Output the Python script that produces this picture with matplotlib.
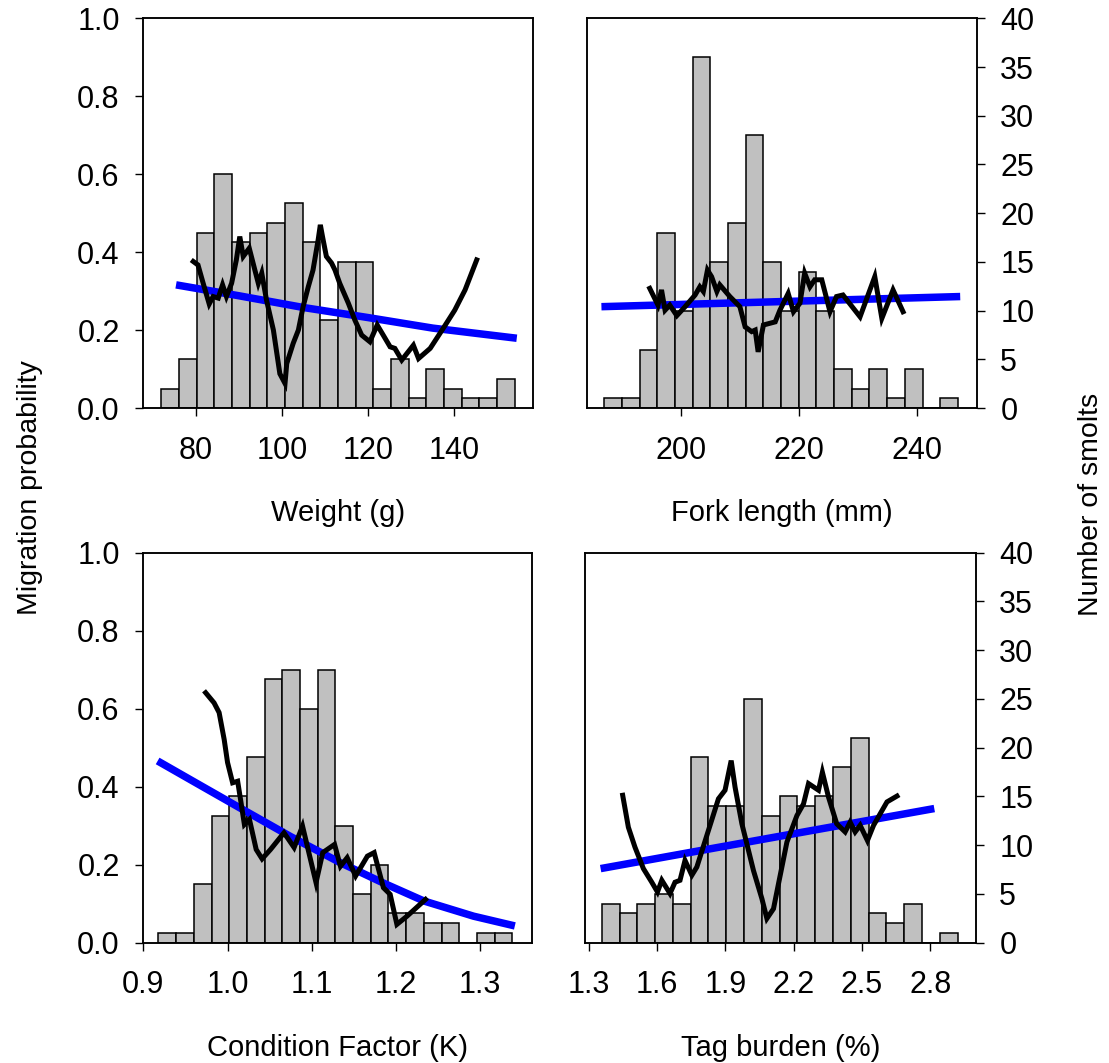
import numpy as np
import matplotlib
matplotlib.use("Agg")
import matplotlib.pyplot as plt

plt.rcParams['font.family'] = ['Liberation Sans', 'DejaVu Sans']

# histogram counts (number of smolts per bin)
weight_bin0, weight_binw = 72.0, 4.1
weight_counts = [2, 5, 18, 24, 17, 18, 19, 21, 17, 9, 15, 15, 2, 5, 1, 4, 2, 1, 1, 3]

length_bin0, length_binw = 187.0, 3.0
length_counts = [1, 1, 6, 18, 10, 36, 15, 19, 28, 15, 10, 14, 10, 4, 2, 4, 1, 4, 0, 1]

cond_bin0, cond_binw = 0.918, 0.021
cond_counts = [1, 1, 6, 13, 15, 19, 27, 28, 24, 28, 12, 5, 8, 3, 3, 2, 2, 0, 1, 1]

tag_bin0, tag_binw = 1.356, 0.0782
tag_counts = [4, 3, 4, 5, 4, 19, 14, 14, 25, 13, 15, 14, 15, 18, 21, 3, 2, 4, 0, 1]

# logistic fits (blue)
weight_fit_x = [75.4, 90, 104.9, 120, 135, 154.5]
weight_fit_y = [0.316, 0.288, 0.258, 0.232, 0.205, 0.179]
length_fit_x = [186.5, 247.4]
length_fit_y = [0.260, 0.286]
cond_fit_x = [0.917, 0.964, 1.016, 1.075, 1.134, 1.185, 1.233, 1.292, 1.341]
cond_fit_y = [0.466, 0.408, 0.344, 0.272, 0.205, 0.153, 0.107, 0.068, 0.043]
tag_fit_x = [1.351, 2.082, 2.818]
tag_fit_y = [0.190, 0.267, 0.344]

# smoothed observed probability (black)
weight_sm_x = [79.4, 80.5, 81.7, 83.1, 84.0, 85.2, 86.2, 87.1, 88.3, 89.4, 90.2, 91.0,
               92.4, 93.7, 94.5, 95.3, 96.4, 98.0, 99.5, 100.7, 101.1, 102.6, 103.8,
               104.9, 106.1, 107.2, 108.4, 108.9, 109.4, 110.3, 111.5, 112.3, 113.4,
               115.4, 116.9, 118.5, 120.4, 122.1, 123.5, 125.1, 126.2, 127.8, 129.0,
               130.5, 131.7, 134.4, 137.4, 140.1, 142.5, 145.2]
weight_sm_y = [0.376, 0.367, 0.320, 0.267, 0.286, 0.282, 0.316, 0.286, 0.320, 0.380,
               0.440, 0.389, 0.410, 0.354, 0.320, 0.346, 0.277, 0.200, 0.088, 0.063,
               0.114, 0.166, 0.200, 0.260, 0.311, 0.354, 0.432, 0.470, 0.440, 0.389,
               0.372, 0.354, 0.320, 0.269, 0.226, 0.187, 0.170, 0.213, 0.187, 0.157,
               0.153, 0.123, 0.140, 0.161, 0.127, 0.153, 0.204, 0.251, 0.303, 0.380]

length_sm_x = [194.7, 196.1, 196.7, 197.3, 198.1, 199.3, 200.7, 202.4, 203.2, 203.8,
               204.5, 205.2, 206.1, 206.6, 208.3, 210.0, 210.9, 212.0, 212.6, 213.1,
               214.0, 216.0, 216.8, 218.2, 219.1, 220.2, 221.0, 221.9, 222.7, 223.9,
               225.3, 226.4, 227.5, 230.4, 232.9, 234.1, 236.0, 237.7]
length_sm_y = [0.307, 0.264, 0.303, 0.251, 0.264, 0.237, 0.260, 0.290, 0.311, 0.299,
               0.354, 0.337, 0.299, 0.316, 0.286, 0.260, 0.208, 0.196, 0.200, 0.144,
               0.213, 0.221, 0.251, 0.294, 0.247, 0.269, 0.346, 0.311, 0.329, 0.329,
               0.247, 0.286, 0.290, 0.234, 0.337, 0.230, 0.303, 0.247]

cond_sm_x = [0.974, 0.984, 0.990, 0.996, 1.000, 1.006, 1.012, 1.016, 1.020, 1.026,
             1.034, 1.041, 1.051, 1.067, 1.079, 1.089, 1.105, 1.113, 1.127, 1.134,
             1.142, 1.152, 1.166, 1.174, 1.185, 1.193, 1.201, 1.213, 1.235]
cond_sm_y = [0.641, 0.615, 0.590, 0.521, 0.462, 0.410, 0.414, 0.359, 0.303, 0.316,
             0.239, 0.215, 0.239, 0.282, 0.244, 0.299, 0.154, 0.231, 0.252, 0.196,
             0.218, 0.171, 0.222, 0.231, 0.141, 0.124, 0.047, 0.068, 0.111]

tag_sm_x = [1.448, 1.473, 1.502, 1.539, 1.576, 1.601, 1.620, 1.656, 1.678, 1.700,
            1.722, 1.752, 1.774, 1.818, 1.869, 1.898, 1.925, 1.942, 1.972, 2.023,
            2.060, 2.082, 2.111, 2.133, 2.170, 2.214, 2.243, 2.265, 2.309, 2.326,
            2.353, 2.389, 2.426, 2.448, 2.470, 2.492, 2.524, 2.551, 2.610, 2.654]
tag_sm_y = [0.378, 0.296, 0.245, 0.190, 0.155, 0.130, 0.160, 0.126, 0.155, 0.160,
            0.211, 0.173, 0.194, 0.275, 0.369, 0.391, 0.467, 0.399, 0.305, 0.185,
            0.113, 0.062, 0.087, 0.151, 0.258, 0.326, 0.356, 0.408, 0.391, 0.437,
            0.373, 0.305, 0.284, 0.309, 0.284, 0.301, 0.262, 0.301, 0.361, 0.376]

W, H = 1109, 1063
fig = plt.figure(figsize=(W / 100, H / 100), dpi=100)

def make_ax(l, r, t, b):
    return fig.add_axes([l / W, 1 - b / H, (r - l) / W, (b - t) / H])

panels = [
    dict(box=(143.3, 532.7, 18.3, 408), xlim=(67.8, 158.2), xticks=[80, 100, 120, 140],
         fmt='{:.0f}', label='Weight (g)', bin0=weight_bin0, binw=weight_binw,
         counts=weight_counts, fx=weight_fit_x, fy=weight_fit_y,
         sx=weight_sm_x, sy=weight_sm_y, side='left'),
    dict(box=(586.7, 976.7, 18.3, 408), xlim=(184.0, 250.2), xticks=[200, 220, 240],
         fmt='{:.0f}', label='Fork length (mm)', bin0=length_bin0, binw=length_binw,
         counts=length_counts, fx=length_fit_x, fy=length_fit_y,
         sx=length_sm_x, sy=length_sm_y, side='right'),
    dict(box=(143.3, 531.7, 552.7, 942.7), xlim=(0.9, 1.361),
         xticks=[0.9, 1.0, 1.1, 1.2, 1.3], fmt='{:.1f}', label='Condition Factor (K)',
         bin0=cond_bin0, binw=cond_binw, counts=cond_counts,
         fx=cond_fit_x, fy=cond_fit_y, sx=cond_sm_x, sy=cond_sm_y, side='left'),
    dict(box=(584.7, 975.7, 552.7, 942.7), xlim=(1.281, 3.0),
         xticks=[1.3, 1.6, 1.9, 2.2, 2.5, 2.8], fmt='{:.1f}', label='Tag burden (%)',
         bin0=tag_bin0, binw=tag_binw, counts=tag_counts,
         fx=tag_fit_x, fy=tag_fit_y, sx=tag_sm_x, sy=tag_sm_y, side='right'),
]

tick_kw = dict(direction='out', length=6, width=1.0, labelsize=22, pad=11)

for p in panels:
    ax = make_ax(*p['box'])
    axc = ax.twinx()
    # counts axis goes behind the probability lines
    axc.set_zorder(ax.get_zorder() - 1)
    ax.patch.set_visible(False)

    lefts = p['bin0'] + p['binw'] * np.arange(len(p['counts']))
    axc.bar(lefts, p['counts'], width=p['binw'], align='edge',
            color='#c0c0c0', edgecolor='black', linewidth=1.1)
    axc.set_ylim(0, 40)

    ax.plot(p['fx'], p['fy'], color='#0000ff', lw=5.4, solid_capstyle='butt')
    ax.plot(p['sx'], p['sy'], color='black', lw=3.6, solid_joinstyle='miter')

    ax.set_xlim(*p['xlim'])
    ax.set_ylim(0, 1)
    ax.set_xticks(p['xticks'])
    ax.set_xticklabels([p['fmt'].format(v) for v in p['xticks']])
    ax.set_xlabel(p['label'], fontsize=21, labelpad=24)
    ax.tick_params(axis='x', **dict(tick_kw, pad=14))

    for a in (ax, axc):
        for s in a.spines.values():
            s.set_linewidth(1.1)
            s.set_color('black')

    if p['side'] == 'left':
        ax.set_yticks(np.arange(0, 1.01, 0.2))
        ax.set_yticklabels(['{:.1f}'.format(v) for v in np.arange(0, 1.01, 0.2)])
        ax.tick_params(axis='y', **tick_kw)
        axc.set_yticks([])
    else:
        ax.set_yticks([])
        axc.set_yticks(np.arange(0, 41, 5))
        axc.tick_params(axis='y', **tick_kw)

fig.text(30 / W, 1 - 488 / H, 'Migration probability', rotation=90,
         ha='center', va='center', fontsize=20.5)
fig.text(1091 / W, 1 - 504 / H, 'Number of smolts', rotation=90,
         ha='center', va='center', fontsize=20.5)

fig.savefig('out.png', dpi=100)
